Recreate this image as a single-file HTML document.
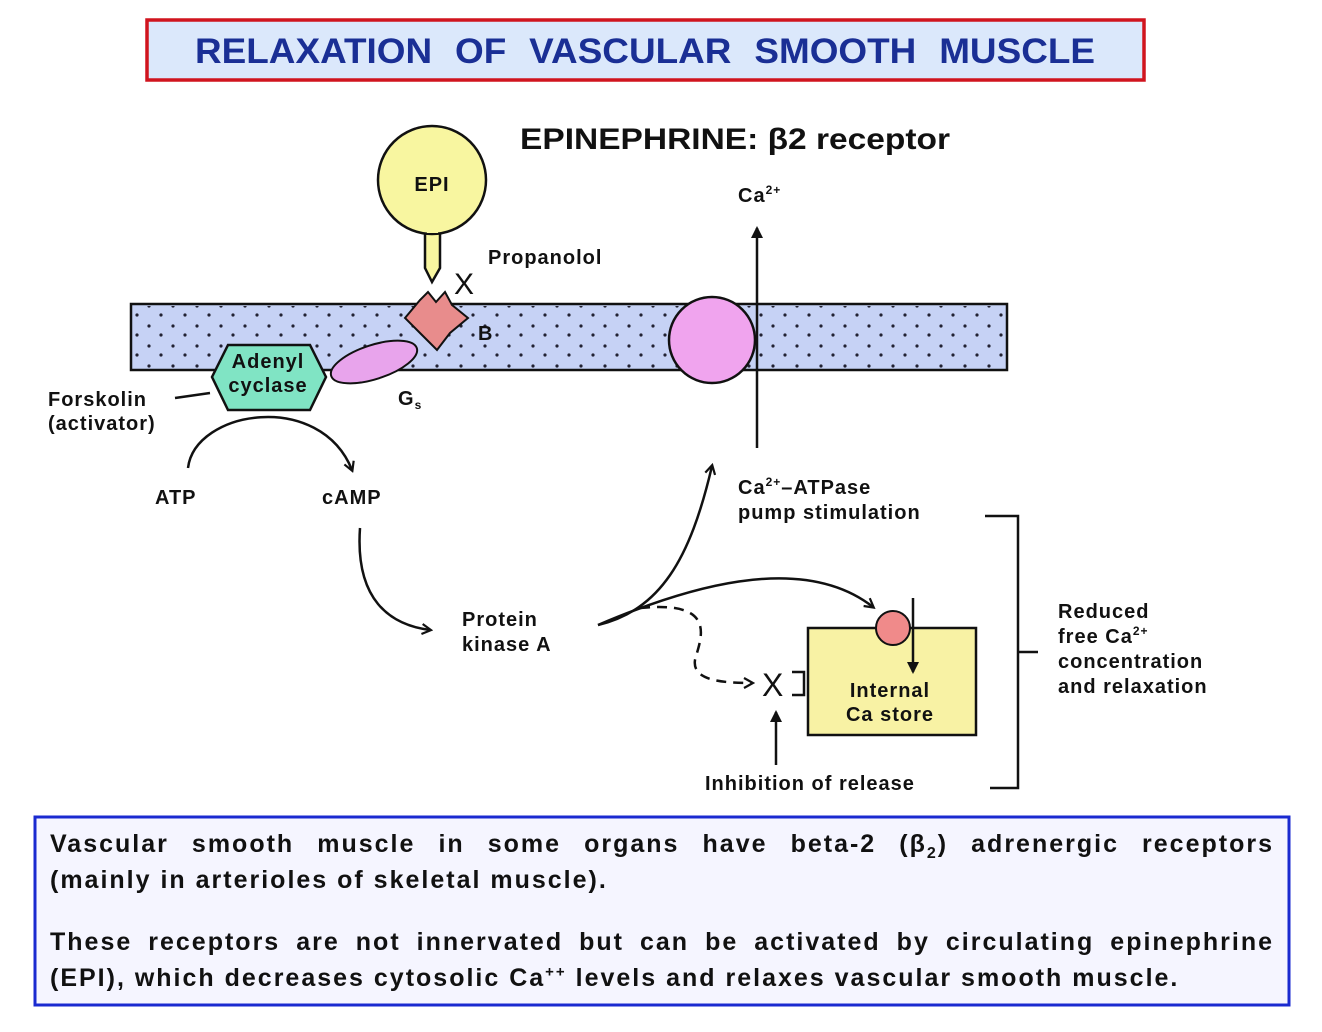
<!DOCTYPE html>
<html><head><meta charset="utf-8"><style>
html,body{margin:0;padding:0;background:#fff;}
svg{display:block;}
text{font-family:"Liberation Sans",sans-serif;}
.h{font-family:"Liberation Sans",sans-serif;font-weight:bold;font-size:20px;fill:#111;letter-spacing:1px;}
#bt{position:absolute;left:50px;top:826px;width:1224px;font-family:"Liberation Sans",sans-serif;font-weight:bold;font-size:25px;color:#111;letter-spacing:2px;}
#bt div{height:36px;line-height:36px;white-space:nowrap;}
#bt .j{text-align:justify;text-align-last:justify;white-space:normal;}
</style></head><body>
<svg width="1322" height="1032" viewBox="0 0 1322 1032" xmlns="http://www.w3.org/2000/svg">
<defs>
<pattern id="dots" width="24" height="20" patternUnits="userSpaceOnUse">
<circle cx="5" cy="6" r="1.6" fill="#223"/><circle cx="17" cy="15" r="1.6" fill="#223"/>
</pattern>
<marker id="ar" markerWidth="12" markerHeight="12" refX="9" refY="6" orient="auto" markerUnits="userSpaceOnUse">
<path d="M1,1 L10,6 L1,11" fill="none" stroke="#111" stroke-width="2.2"/>
</marker>
<marker id="af" markerWidth="14" markerHeight="14" refX="10" refY="7" orient="auto" markerUnits="userSpaceOnUse">
<path d="M0,1 L12,7 L0,13 Z" fill="#111"/>
</marker>
</defs>
<rect x="147" y="20" width="997" height="60" fill="#dbe8fb" stroke="#d0141e" stroke-width="3.5"/>
<text x="645" y="63" text-anchor="middle" font-weight="bold" font-size="35" fill="#1a2f95" textLength="900" lengthAdjust="spacingAndGlyphs" word-spacing="12">RELAXATION OF VASCULAR SMOOTH MUSCLE</text>
<text x="520" y="149" font-weight="bold" font-size="30" fill="#111" textLength="430" lengthAdjust="spacingAndGlyphs">EPINEPHRINE: β2 receptor</text>

<rect x="131" y="304" width="876" height="66" fill="#c6d2f5" stroke="#111" stroke-width="2.5"/>
<rect x="133" y="306" width="872" height="62" fill="url(#dots)"/>
<path d="M425,228 L425,268 L432,282 L440,268 L440,228 Z" fill="#f8f6a0" stroke="#111" stroke-width="2.5"/>
<circle cx="432" cy="180" r="54" fill="#f8f6a0" stroke="#111" stroke-width="2.5"/>
<rect x="427" y="225" width="11" height="8" fill="#f8f6a0"/>
<text x="432" y="191" text-anchor="middle" class="h" font-size="26">EPI</text>
<path d="M405,318 L420,300 L428,292 L436,302 L445,292 L452,305 L468,318 L450,333 L437,350 L422,335 Z" fill="#e88c8c" stroke="#111" stroke-width="2"/>
<text x="454" y="294" font-size="30" fill="#111">X</text>
<text x="488" y="264" class="h">Propanolol</text>
<text x="478" y="340" class="h" font-size="14">B</text>
<ellipse cx="374" cy="362" rx="45" ry="17" transform="rotate(-18 374 362)" fill="#e8a4ec" stroke="#111" stroke-width="2"/>
<text x="398" y="405" class="h">G<tspan font-size="12" dy="4">s</tspan></text>
<path d="M228,345 L310,345 L326,377 L310,410 L228,410 L212,377 Z" fill="#80e4c4" stroke="#111" stroke-width="2.5"/>
<text x="268" y="368" text-anchor="middle" class="h">Adenyl</text>
<text x="268" y="392" text-anchor="middle" class="h">cyclase</text>
<text x="48" y="406" class="h">Forskolin</text>
<text x="48" y="430" class="h">(activator)</text>
<line x1="175" y1="398" x2="210" y2="393" stroke="#111" stroke-width="2.5"/>
<circle cx="712" cy="340" r="43" fill="#f0a4ee" stroke="#111" stroke-width="2.5"/>
<line x1="757" y1="448" x2="757" y2="228" stroke="#111" stroke-width="2.5" marker-end="url(#af)"/>
<text x="738" y="202" class="h">Ca<tspan font-size="12" dy="-8">2+</tspan></text>
<path d="M188,468 C195,410 320,390 352,470" fill="none" stroke="#111" stroke-width="2.5" marker-end="url(#ar)"/>
<text x="155" y="504" class="h">ATP</text>
<text x="322" y="504" class="h">cAMP</text>
<path d="M360,528 C355,600 390,625 430,630" fill="none" stroke="#111" stroke-width="2.5" marker-end="url(#ar)"/>
<text x="462" y="626" class="h">Protein</text>
<text x="462" y="651" class="h">kinase A</text>
<path d="M598,625 C660,610 690,560 712,466" fill="none" stroke="#111" stroke-width="2.5" marker-end="url(#ar)"/>
<path d="M598,625 C680,590 800,550 873,607" fill="none" stroke="#111" stroke-width="2.5" marker-end="url(#ar)"/>
<path d="M640,608 C720,600 700,640 695,660 C692,680 720,683 752,683" fill="none" stroke="#111" stroke-width="2.5" stroke-dasharray="10,7" marker-end="url(#ar)"/>
<text x="738" y="494" class="h">Ca<tspan font-size="12" dy="-8">2+</tspan><tspan dy="8">–ATPase</tspan></text>
<text x="738" y="519" class="h">pump stimulation</text>
<rect x="808" y="628" width="168" height="107" fill="#f8f2a4" stroke="#111" stroke-width="2.5"/>
<circle cx="893" cy="628" r="17" fill="#f08a8a" stroke="#111" stroke-width="2"/>
<line x1="913" y1="598" x2="913" y2="672" stroke="#111" stroke-width="2.5" marker-end="url(#af)"/>
<text x="890" y="697" text-anchor="middle" class="h">Internal</text>
<text x="890" y="721" text-anchor="middle" class="h">Ca store</text>
<text x="762" y="696" font-size="32" fill="#111">X</text>
<path d="M792,672 L804,672 L804,695 L792,695" fill="none" stroke="#111" stroke-width="2.5"/>
<line x1="776" y1="765" x2="776" y2="712" stroke="#111" stroke-width="2.5" marker-end="url(#af)"/>
<text x="705" y="790" class="h">Inhibition of release</text>
<path d="M985,516 L1018,516 L1018,788 L990,788 M1018,652 L1038,652" fill="none" stroke="#111" stroke-width="2.5"/>
<text x="1058" y="618" class="h">Reduced</text>
<text x="1058" y="643" class="h">free Ca<tspan font-size="12" dy="-8">2+</tspan></text>
<text x="1058" y="668" class="h">concentration</text>
<text x="1058" y="693" class="h">and relaxation</text>
<rect x="35" y="817" width="1254" height="188" fill="#f5f5ff" stroke="#1a2ad0" stroke-width="3"/>
</svg>
<div id="bt">
<div class="j">Vascular smooth muscle in some organs have beta-2 (β<sub style="font-size:16px;line-height:0">2</sub>) adrenergic receptors</div>
<div>(mainly in arterioles of skeletal muscle).</div>
<div style="height:26px"></div>
<div class="j">These receptors are not innervated but can be activated by circulating epinephrine</div>
<div>(EPI), which decreases cytosolic Ca<sup style="font-size:15px;line-height:0">++</sup> levels and relaxes vascular smooth muscle.</div>
</div>
</body></html>
